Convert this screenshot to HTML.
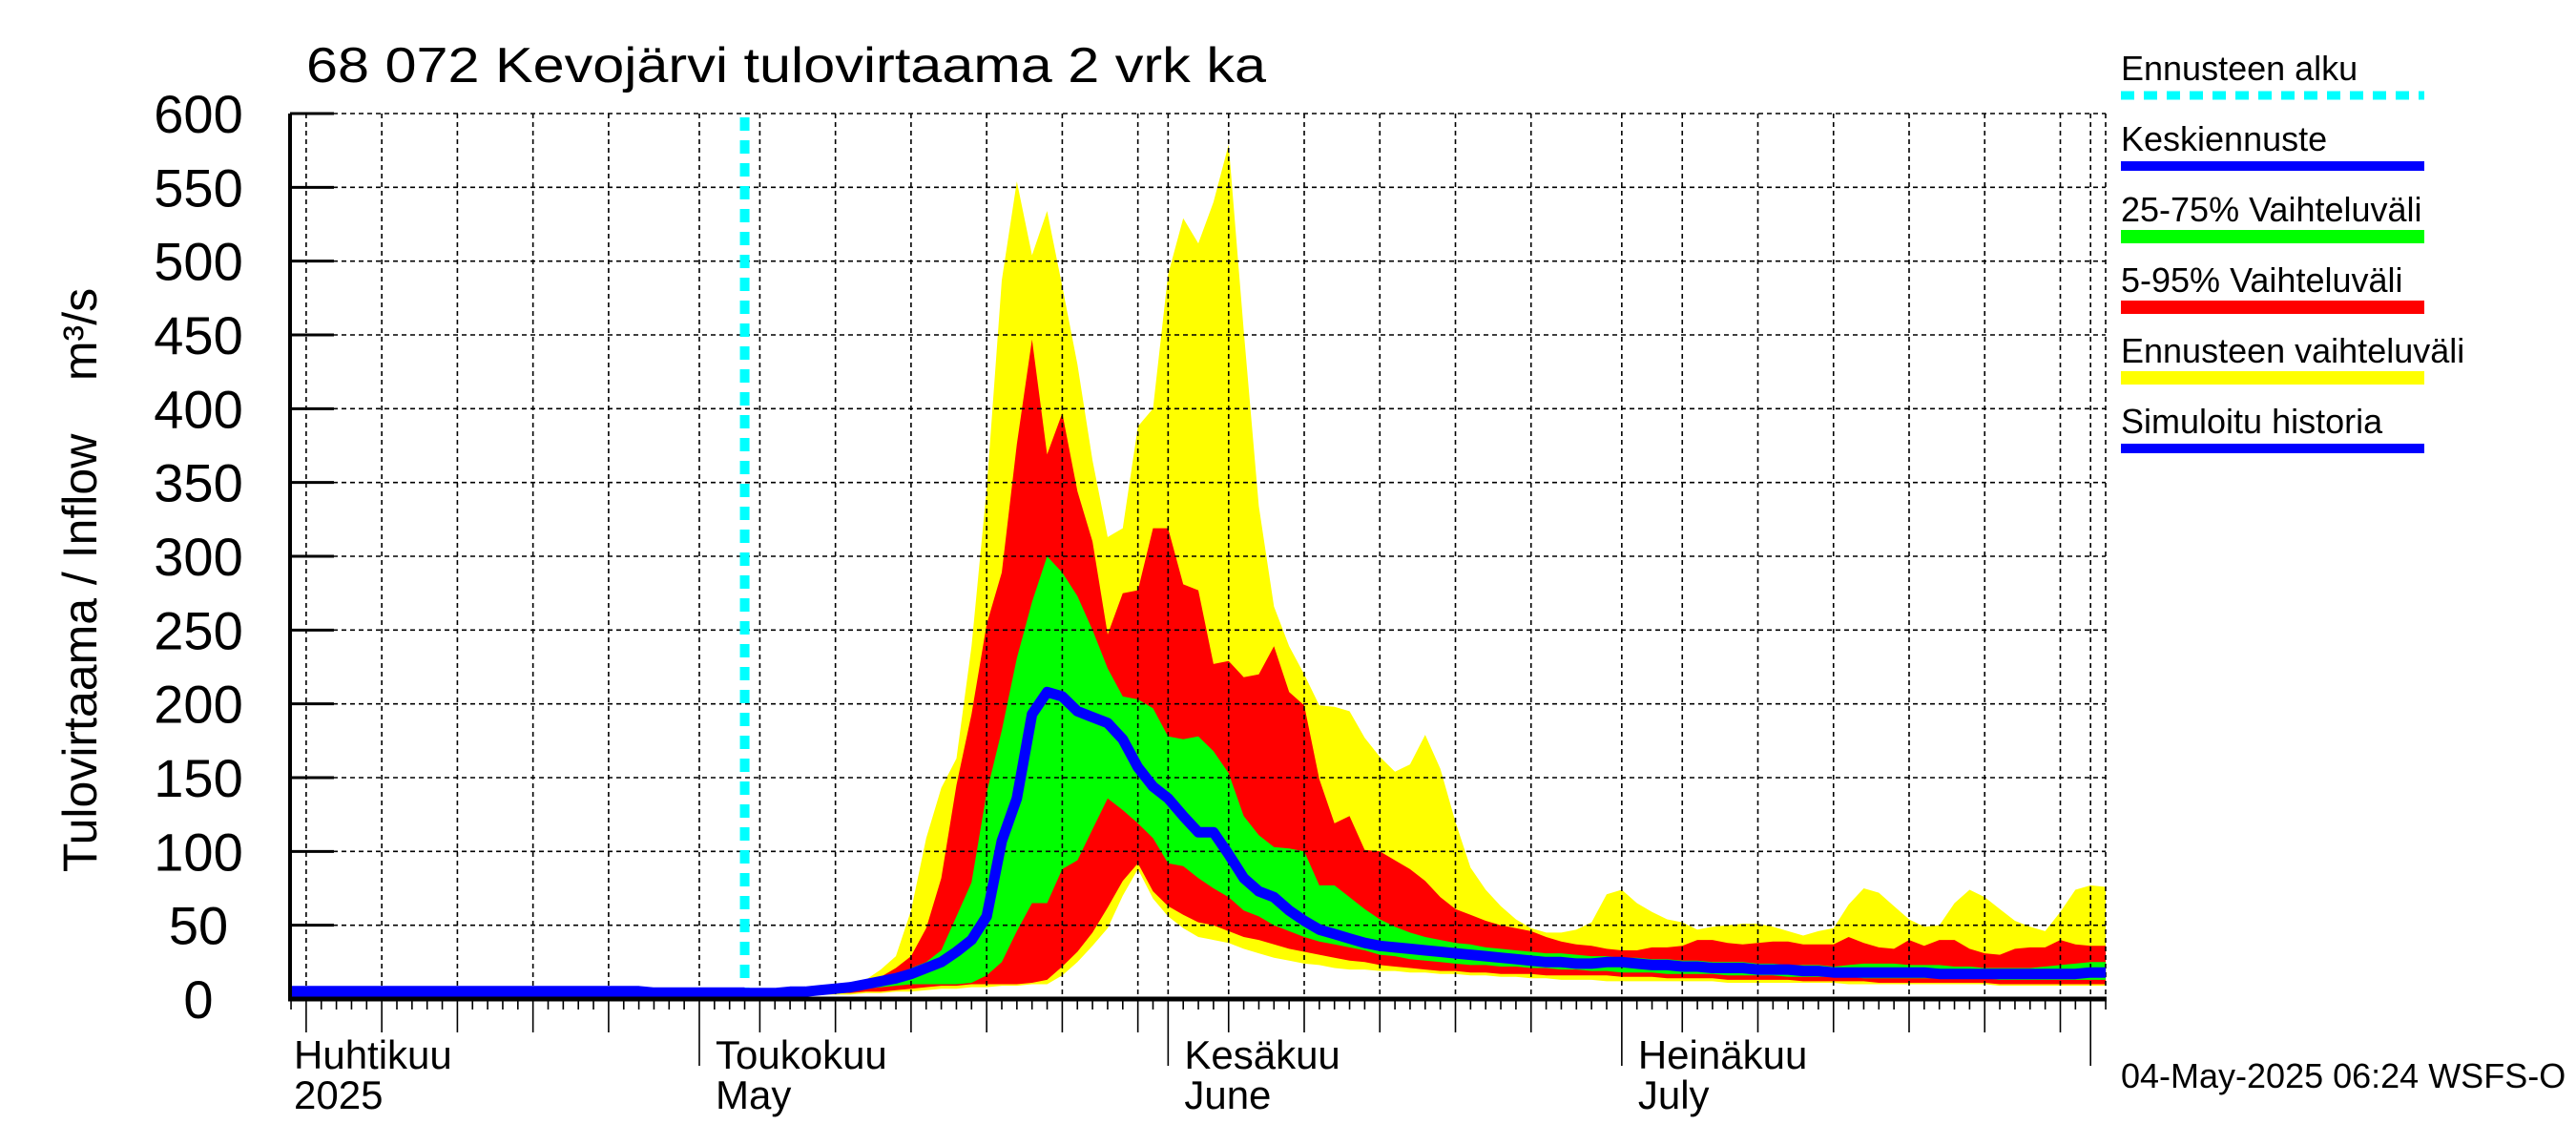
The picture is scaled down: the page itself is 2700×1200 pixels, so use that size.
<!DOCTYPE html>
<html><head><meta charset="utf-8"><title>68 072 Kevojärvi tulovirtaama</title>
<style>html,body{margin:0;padding:0;background:#fff}svg{display:block}text{font-family:"Liberation Sans","DejaVu Sans",sans-serif;fill:#000}</style>
</head><body>
<svg id="chart" xmlns="http://www.w3.org/2000/svg" width="2700" height="1200" viewBox="0 0 2700 1200">
<rect x="0" y="0" width="2700" height="1200" fill="#fff"/>
<g id="bands"></g>
<g id="grid"></g>
<g id="lines"></g>
<g id="axes"></g>
<text x="321" y="86" font-size="52" textLength="1006" lengthAdjust="spacingAndGlyphs">68 072 Kevojärvi tulovirtaama 2 vrk ka</text>
<text transform="translate(101,608) rotate(-90)" text-anchor="middle" font-size="50" xml:space="preserve">Tulovirtaama / Inflow    m³/s</text>
<g font-size="36">
<text x="2223" y="84">Ennusteen alku</text>
<line x1="2223" y1="100" x2="2541" y2="100" stroke="#00ffff" stroke-width="9" stroke-dasharray="14,10"/>
<text x="2223" y="158">Keskiennuste</text>
<line x1="2223" y1="174" x2="2541" y2="174" stroke="#0000ff" stroke-width="10"/>
<text x="2223" y="232">25-75% Vaihteluväli</text>
<line x1="2223" y1="248" x2="2541" y2="248" stroke="#00ff00" stroke-width="14"/>
<text x="2223" y="306">5-95% Vaihteluväli</text>
<line x1="2223" y1="322" x2="2541" y2="322" stroke="#ff0000" stroke-width="14"/>
<text x="2223" y="380">Ennusteen vaihteluväli</text>
<line x1="2223" y1="396" x2="2541" y2="396" stroke="#ffff00" stroke-width="14"/>
<text x="2223" y="454">Simuloitu historia</text>
<line x1="2223" y1="470" x2="2541" y2="470" stroke="#0000ff" stroke-width="10"/>
</g>
<text x="2223" y="1140" font-size="36">04-May-2025 06:24 WSFS-O</text>
</svg>
<script>
// days relative to 1 May 2025 (day 0)
const forecastStartDay = 3;
const bandDays = [];
for (let d = 3; d <= 93; d++) bandDays.push(d);
const yellowTop = [4,4,4,5,5,5,6,8,13,20,29,60,109,143,163,239,346,487,554,504,534,483,430,365,313,319,388,400,491,529,512,540,579,453,334,266,239,220,199,198,195,177,164,154,159,179,156,120,89,74,63,54,48,45,45,47,52,71,74,65,59,54,52,47,49,50,51,51,49,46,43,46,48,64,75,72,63,54,49,50,65,74,69,61,53,49,46,59,74,77,76];
const redTop = [4,4,4,4,5,5,6,7,10,15,21,29,48,82,145,193,254,289,376,447,369,397,344,310,247,275,277,319,319,281,277,227,229,218,220,239,208,199,149,119,124,101,100,94,88,80,69,61,57,53,50,48,46,42,39,37,36,34,33,33,35,35,36,40,40,38,37,38,39,39,37,37,37,42,38,35,34,40,36,40,40,34,31,30,34,35,35,40,37,36,36];
const greenTop = [4,4,4,4,5,5,6,7,9,12,16,21,25,33,56,79,140,182,231,269,300,289,273,250,224,205,203,197,178,176,178,168,153,124,111,103,102,100,77,77,69,61,54,49,45,42,40,38,37,35,34,33,32,31,31,30,29,29,28,28,27,27,26,26,25,25,25,24,24,23,23,23,22,23,24,24,24,23,23,23,22,22,21,21,21,21,22,23,24,25,25];
const medianVals = [4,4,4,5,5,6,7,8,10,12,14,17,21,25,32,40,56,107,136,193,208,205,195,191,187,176,157,144,136,124,113,113,98,82,73,69,60,53,47,44,41,38,36,35,34,33,32,31,30,29,28,27,26,25,25,24,24,25,25,24,23,23,22,22,21,21,21,20,20,20,19,19,18,18,18,18,18,18,18,17,17,17,17,17,17,17,17,17,17,18,18];
const greenBottom = [4,4,4,4,4,5,5,6,7,8,9,10,10,10,10,11,16,25,46,65,65,88,94,115,136,128,119,109,92,90,82,75,69,60,56,50,46,42,39,37,35,33,30,29,27,26,25,24,23,23,22,22,21,21,20,20,19,19,18,18,18,17,17,17,17,16,16,16,16,15,15,15,15,15,14,14,14,14,14,14,14,14,14,13,13,13,13,13,13,13,13];
const redBottom = [3,3,3,3,3,4,4,4,5,5,6,7,8,9,9,10,10,10,10,11,13,22,32,45,62,80,92,73,63,57,52,50,46,42,40,37,34,32,30,28,26,25,23,22,21,20,19,19,18,18,17,17,17,16,16,16,16,16,15,15,15,14,14,14,14,13,13,13,13,13,12,12,12,12,12,11,11,11,11,11,11,11,11,10,10,10,10,10,10,10,10];
const yellowBottom = [2,2,2,2,2,3,3,3,4,4,5,5,6,7,7,8,8,9,9,10,10,16,25,36,48,70,88,68,56,48,42,40,38,34,31,28,26,24,23,21,20,20,19,19,18,18,17,17,16,16,15,15,14,14,13,13,13,12,12,12,12,12,12,12,12,11,11,11,11,11,11,11,11,10,10,10,10,10,10,10,10,10,10,9,9,9,9,9,9,9,9];
const historyDays = [];
for (let d = -27; d <= 3; d++) historyDays.push(d);
const historyVals = [5,5,5,5,5,5,5,5,5,5,5,5,5,5,5,5,5,5,5,5,5,5,5,5,4,4,4,4,4,4,4];
const yTicks = [0,50,100,150,200,250,300,350,400,450,500,550,600];
const monthLabels = [["Huhtikuu","2025",-30],["Toukokuu","May",0],["Kesäkuu","June",31],["Heinäkuu","July",61]];

const NS = "http://www.w3.org/2000/svg";
const X0 = 733, PXD = 15.85, Y0 = 1047, PXV = 928/600;
const xMin = 304, xMax = 2207, yTop = 119;
const xs = d => X0 + d * PXD;
const ys = v => Y0 - v * PXV;
function mk(tag, attrs, parent) { const e = document.createElementNS(NS, tag); for (const k in attrs) e.setAttribute(k, attrs[k]); parent.appendChild(e); return e; }
const bands = document.getElementById('bands'), grid = document.getElementById('grid'), lines = document.getElementById('lines'), axes = document.getElementById('axes');

function band(top, bot, color, name) {
  let p = bandDays.map((d, i) => xs(d).toFixed(1) + ',' + ys(top[i]).toFixed(1));
  for (let i = bandDays.length - 1; i >= 0; i--) p.push(xs(bandDays[i]).toFixed(1) + ',' + ys(bot[i]).toFixed(1));
  const e = mk('polygon', {points: p.join(' '), fill: color}, bands);
  
  
}
band(yellowTop, yellowBottom, '#ffff00', 'band-forecast-range');
band(redTop, redBottom, '#ff0000', 'band-5-95');
band(greenTop, greenBottom, '#00ff00', 'band-25-75');

yTicks.forEach(v => { if (v === 0) return;
  const l = mk('line', {x1: xMin, x2: xMax, y1: ys(v), y2: ys(v), stroke: '#000', 'stroke-width': 1.6, 'stroke-dasharray': '5,4'}, grid);
  
  
});
const monthStarts = [-30, 0, 31, 61, 92];
const gridDays = [];
monthStarts.forEach((m, mi) => { gridDays.push(m); if (mi < 4) { const len = monthStarts[mi + 1] - m; for (let k = 5; k < len; k += 5) gridDays.push(m + k - 1); } });
gridDays.forEach(d => { const x = xs(d); if (x < xMin + 2 || x > xMax) return;
  const l = mk('line', {x1: x, x2: x, y1: yTop, y2: Y0, stroke: '#000', 'stroke-width': 1.6, 'stroke-dasharray': '5,4'}, grid);
  
  
});
const rb = mk('line', {x1: xMax, x2: xMax, y1: yTop, y2: Y0, stroke: '#000', 'stroke-width': 1.6, 'stroke-dasharray': '5,4'}, grid);



const fs = mk('line', {x1: xs(forecastStartDay), x2: xs(forecastStartDay), y1: yTop + 4, y2: Y0, stroke: '#00ffff', 'stroke-width': 10, 'stroke-dasharray': '14,10'}, lines);



const hp = historyDays.map((d, i) => (i === 0 ? xMin + 2 : xs(d)).toFixed(1) + ',' + ys(historyVals[i]).toFixed(1)).join(' ');
const hl = mk('polyline', {points: hp, fill: 'none', stroke: '#0000ff', 'stroke-width': 12, 'stroke-linejoin': 'round'}, lines);


const mp = bandDays.map((d, i) => xs(d).toFixed(1) + ',' + ys(medianVals[i]).toFixed(1)).join(' ');
const ml = mk('polyline', {points: mp, fill: 'none', stroke: '#0000ff', 'stroke-width': 11, 'stroke-linejoin': 'round'}, lines);



const ya = mk('line', {x1: xMin, x2: xMin, y1: yTop, y2: Y0 + 2, stroke: '#000', 'stroke-width': 4}, axes);


const xa = mk('line', {x1: xMin - 2, x2: xMax + 1, y1: Y0, y2: Y0, stroke: '#000', 'stroke-width': 5}, axes);


yTicks.forEach(v => {
  const t = mk('line', {x1: xMin, x2: xMin + 46, y1: ys(v), y2: ys(v), stroke: '#000', 'stroke-width': 3}, axes);
  
  
  const tx = mk('text', {x: 208, y: ys(v) + 20, 'text-anchor': 'middle', 'font-size': 56}, axes);
  tx.textContent = String(v);
  
  
});
for (let d = -27; d <= 93; d++) { const x = xs(d); if (x < xMin - 1 || x > xMax + 1) continue;
  let len = 11;
  if (gridDays.indexOf(d) >= 0) len = 35;
  if (monthStarts.indexOf(d) >= 0) len = 70;
  const t = mk('line', {x1: x, x2: x, y1: Y0, y2: Y0 + len, stroke: '#000', 'stroke-width': 1.6}, axes);
  
  
}
monthLabels.forEach(m => {
  const x = m[2] < -27 ? 308 : xs(m[2]) + 17;
  const a = mk('text', {x: x, y: 1120, 'font-size': 42}, axes);
  a.textContent = m[0];
  
  
  const b = mk('text', {x: x, y: 1162, 'font-size': 42}, axes);
  b.textContent = m[1];
  
  
});
</script>
</body></html>
